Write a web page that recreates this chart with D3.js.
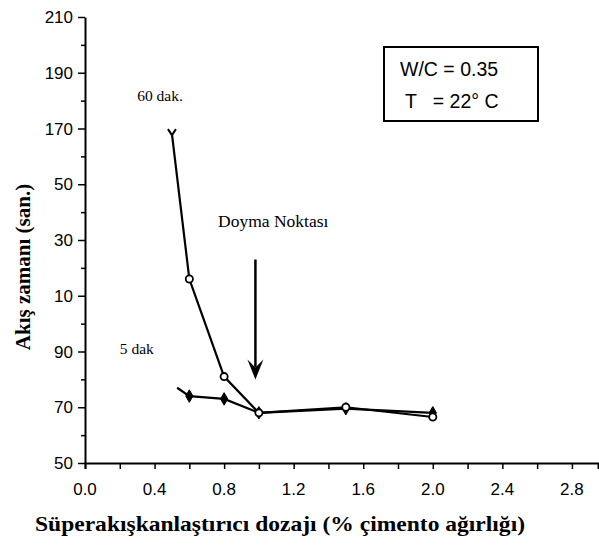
<!DOCTYPE html>
<html>
<head>
<meta charset="utf-8">
<script src="https://cdn.jsdelivr.net/npm/d3@7/dist/d3.min.js"></script>
<style>
  html, body { margin: 0; padding: 0; background: #ffffff; }
  svg { display: block; }
</style>
</head>
<body>
<svg id="chart" width="599" height="545"></svg>
<script>
// ---- data ----
const dose60 = [0.5, 0.6, 0.8, 1.0, 1.5, 2.0];
const time60 = [168, 116, 81, 68, 70, 66.5];
const dose5 = [0.53, 0.6, 0.8, 1.0, 1.5, 2.0];
const time5 = [77, 74, 73, 68, 69.5, 68];
const xTickValues = [0.0, 0.4, 0.8, 1.2, 1.6, 2.0, 2.4, 2.8];
const xTickLabels = ["0.0", "0.4", "0.8", "1.2", "1.6", "2.0", "2.4", "2.8"];
const yTickValues = [210, 190, 170, 150, 130, 110, 90, 70, 50];
const yTickLabels = ["210", "190", "170", "50", "30", "10", "90", "70", "50"];
const xTitle = "Süperakışkanlaştırıcı dozajı (% çimento ağırlığı)";
const yTitle = "Akış zamanı (san.)";
const label60 = {text: "60 dak.", x: 0.30, y: 180};
const label5 = {text: "5 dak", x: 0.20, y: 89};
const labelDoyma = {text: "Doyma Noktası", x: 0.765, y: 134.5};
const arrowData = {x: 0.98, top: 123, tip: 80};
const boxLines = ["W/C = 0.35", "T   = 22° C"];

// ---- layout ----
const svg = d3.select("#chart");
const x = d3.scaleLinear().domain([0, 2.95]).range([85, 598]);
const y = d3.scaleLinear().domain([50, 210]).range([463, 17]);
const serif = "'Liberation Serif', 'Times New Roman', serif";
const sans = "'Liberation Sans', Arial, sans-serif";

// X axis
const xAxis = d3.axisBottom(x)
  .tickValues(d3.range(0, 2.95, 0.2))
  .tickSize(6)
  .tickFormat(() => "");
const gx = svg.append("g").attr("transform", `translate(0,${y(50)})`).call(xAxis);
gx.select(".domain").attr("stroke", "#000").attr("stroke-width", 2);
gx.selectAll(".tick line").attr("stroke", "#000").attr("stroke-width", 1.5);
svg.append("g").selectAll("text").data(xTickValues).join("text")
  .attr("x", d => x(d)).attr("y", y(50) + 32)
  .attr("text-anchor", "middle")
  .attr("font-family", sans).attr("font-size", 17)
  .text((d, i) => xTickLabels[i]);

// Y axis
const yAxis = d3.axisLeft(y)
  .tickValues(d3.range(50, 211, 10))
  .tickSize(0)
  .tickFormat(() => "");
const gy = svg.append("g").attr("transform", `translate(${x(0)},0)`).call(yAxis);
gy.select(".domain").attr("stroke", "#000").attr("stroke-width", 2);
gy.selectAll(".tick line")
  .attr("x2", d => (d % 20 === 10 ? -7 : -4))
  .attr("stroke", "#000").attr("stroke-width", 1.5);
svg.append("g").selectAll("text").data(yTickValues).join("text")
  .attr("x", x(0) - 12).attr("y", d => y(d) + 6)
  .attr("text-anchor", "end")
  .attr("font-family", sans).attr("font-size", 17)
  .text((d, i) => yTickLabels[i]);

// Titles
svg.append("text")
  .attr("x", 35).attr("y", 531)
  .attr("textLength", 490).attr("lengthAdjust", "spacingAndGlyphs")
  .attr("font-family", serif).attr("font-weight", "bold").attr("font-size", 21)
  .text(xTitle);
svg.append("text")
  .attr("transform", "translate(30,267) rotate(-90)")
  .attr("text-anchor", "middle")
  .attr("font-family", serif).attr("font-weight", "bold").attr("font-size", 21)
  .text(yTitle);

// Lines
const line = d3.line().x(d => x(d[0])).y(d => y(d[1]));
const pts60 = dose60.map((d, i) => [d, time60[i]]);
const pts5 = dose5.map((d, i) => [d, time5[i]]);
svg.append("path").attr("d", line(pts5)).attr("fill", "none")
  .attr("stroke", "#000").attr("stroke-width", 2.2);
svg.append("path").attr("d", line(pts60)).attr("fill", "none")
  .attr("stroke", "#000").attr("stroke-width", 2.2);

// 5 dak markers (diamonds)
svg.append("g").selectAll("path").data(pts5.slice(1)).join("path")
  .attr("d", d3.symbol().type(d3.symbolDiamond).size(45))
  .attr("transform", d => `translate(${x(d[0])},${y(d[1])})`)
  .attr("fill", "#000").attr("stroke", "#000").attr("stroke-width", 1);

// 60 dak markers (open circles, first one a "v")
svg.append("g").selectAll("circle").data(pts60.slice(1)).join("circle")
  .attr("cx", d => x(d[0])).attr("cy", d => y(d[1])).attr("r", 3.6)
  .attr("fill", "#fff").attr("stroke", "#000").attr("stroke-width", 1.8);
svg.append("path")
  .attr("d", `M${x(pts60[0][0]) - 4},${y(pts60[0][1]) - 5}L${x(pts60[0][0])},${y(pts60[0][1]) + 1}L${x(pts60[0][0]) + 4},${y(pts60[0][1]) - 5}`)
  .attr("fill", "none").attr("stroke", "#000").attr("stroke-width", 2);

// Annotations
svg.append("text").attr("x", x(label60.x)).attr("y", y(label60.y))
  .attr("font-family", serif).attr("font-size", 15.5).text(label60.text);
svg.append("text").attr("x", x(label5.x)).attr("y", y(label5.y))
  .attr("font-family", serif).attr("font-size", 15.5).text(label5.text);
svg.append("text").attr("x", x(labelDoyma.x)).attr("y", y(labelDoyma.y))
  .attr("font-family", serif).attr("font-size", 17.5).text(labelDoyma.text);

// Arrow
const ax = x(arrowData.x);
svg.append("line")
  .attr("x1", ax).attr("x2", ax)
  .attr("y1", y(arrowData.top)).attr("y2", y(arrowData.tip) - 12)
  .attr("stroke", "#000").attr("stroke-width", 2.5);
svg.append("path")
  .attr("d", `M${ax - 8},${y(arrowData.tip) - 20}L${ax},${y(arrowData.tip)}L${ax + 8},${y(arrowData.tip) - 20}L${ax},${y(arrowData.tip) - 12}Z`)
  .attr("fill", "#000");

// Info box
svg.append("rect")
  .attr("x", 384).attr("y", 47).attr("width", 154).attr("height", 74)
  .attr("fill", "none").attr("stroke", "#000").attr("stroke-width", 2);
svg.append("text").attr("x", 400).attr("y", 76)
  .attr("font-family", sans).attr("font-size", 19.5)
  .text(boxLines[0]);
svg.append("text").attr("x", 405).attr("y", 108)
  .attr("font-family", sans).attr("font-size", 19.5)
  .attr("xml:space", "preserve").style("white-space", "pre")
  .text(boxLines[1]);
</script>
</body>
</html>
